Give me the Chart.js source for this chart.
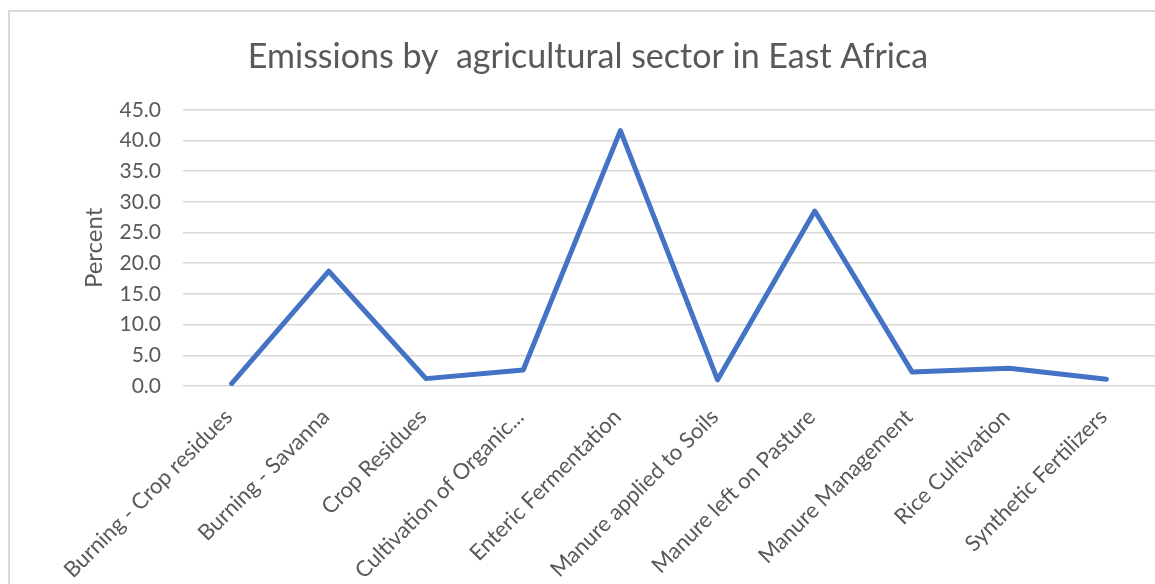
<!DOCTYPE html>
<html>
<script src="https://cdn.jsdelivr.net/npm/chart.js@4.4.0/dist/chart.umd.min.js"></script>
<body style="margin:0;background:#fff;overflow:hidden">

<div style="position:absolute;left:8px;top:10px;width:1300px;height:700px;border-left:2px solid #d9d9d9;border-top:2px solid #d9d9d9;pointer-events:none"></div>
<div style="position:absolute;left:0;top:0;width:1155px;height:584px">
  <canvas id="myChart"></canvas>
</div>

<script>
var sectors = ["Burning - Crop residues", "Burning - Savanna", "Crop Residues", "Cultivation of Organic...",
  "Enteric Fermentation", "Manure applied to Soils", "Manure left on Pasture", "Manure Management",
  "Rice Cultivation", "Synthetic Fertilizers"];
var percents = [0.4, 18.7, 1.2, 2.6, 41.6, 1.0, 28.5, 2.3, 2.9, 1.1];

var grey = '#595959';
var fontName = 'Lato';

// nudge the title a little right of the canvas centre
var titleShift = {
  id: 'titleShift',
  afterLayout: function (chart) {
    if (chart.titleBlock) chart.titleBlock.left += 21;
  }
};

new Chart("myChart", {
  type: 'line',
  data: {
    labels: sectors,
    datasets: [{
      label: 'Percent',
      data: percents,
      borderColor: '#4472C4',
      borderWidth: 5,
      borderCapStyle: 'round',
      borderJoinStyle: 'round',
      pointRadius: 0,
      tension: 0,
      fill: false
    }]
  },
  plugins: [titleShift],
  options: {
    responsive: true,
    maintainAspectRatio: false,
    animation: false,
    layout: { padding: 0 },
    plugins: {
      legend: { display: false },
      tooltip: { enabled: false },
      title: {
        display: true,
        text: 'Emissions by  agricultural sector in East Africa',
        color: grey,
        font: { family: fontName, size: 34, weight: 'normal' },
        padding: { top: 37, bottom: 32 }
      }
    },
    scales: {
      x: {
        offset: true,
        grid: { display: false, drawTicks: false },
        border: { display: false },
        ticks: {
          color: grey,
          font: { family: fontName, size: 22 },
          minRotation: 45,
          maxRotation: 45,
          autoSkip: false,
          padding: 18,
          labelOffset: -3
        },
        afterFit: function (scale) { scale.height = 198; }
      },
      y: {
        min: 0,
        max: 45,
        grid: { color: '#d9d9d9', lineWidth: 1.5, drawTicks: false },
        border: { display: false },
        ticks: {
          stepSize: 5,
          color: grey,
          font: { family: fontName, size: 21 },
          padding: 22,
          callback: function (v) { return v.toFixed(1); }
        },
        title: {
          display: true,
          text: 'Percent',
          color: grey,
          font: { family: fontName, size: 24 },
          padding: { top: 80, bottom: 0 }
        },
        afterFit: function (scale) { scale.width = 183; }
      }
    }
  }
});
</script>

</body>
</html>
